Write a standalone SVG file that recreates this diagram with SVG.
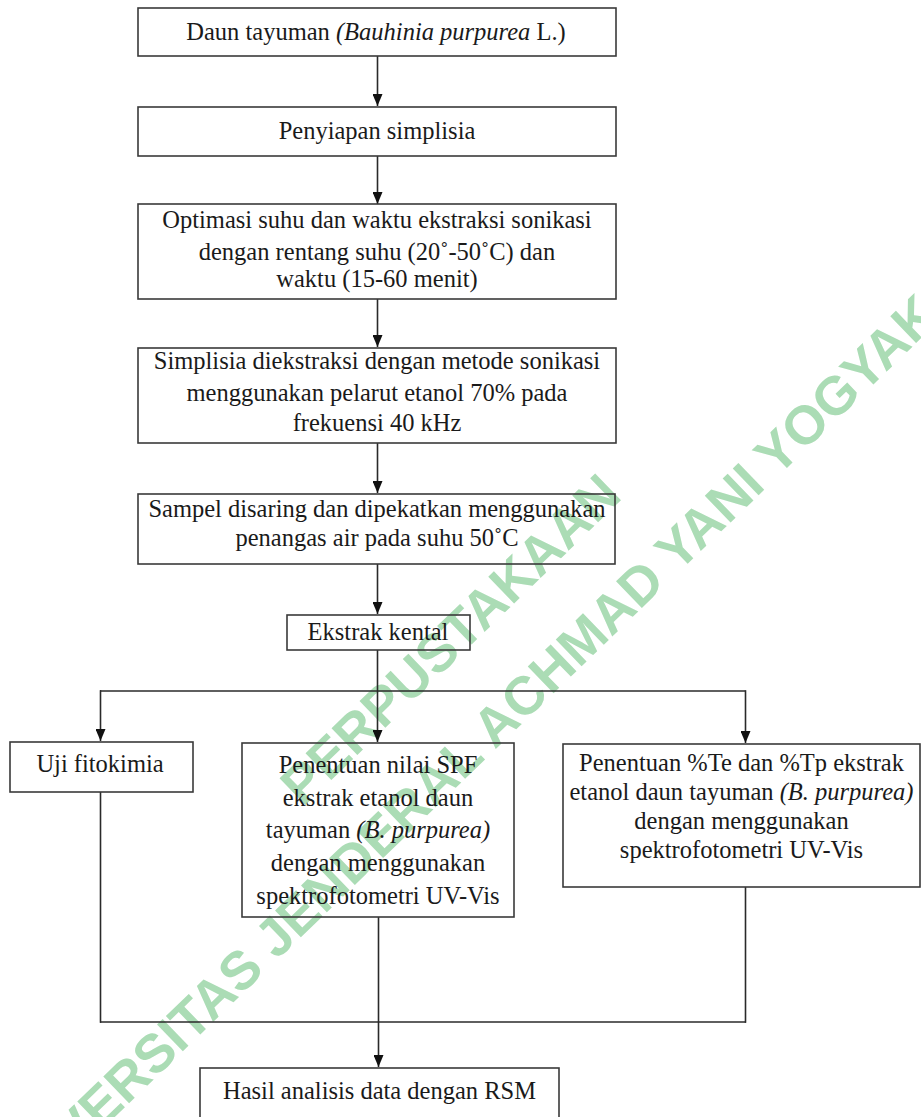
<svg xmlns="http://www.w3.org/2000/svg" width="921" height="1117" viewBox="0 0 921 1117">
<defs>
<style>
.box{fill:none;stroke:#3a3a3a;stroke-width:1.6}
.t{font-family:"Liberation Serif","Times New Roman",serif;font-size:24.5px;fill:#1a1a1a;text-anchor:middle}
.i{font-style:italic}
.ln{fill:none;stroke:#2a2a2a;stroke-width:1.6}
.wm{font-family:"Liberation Sans",Arial,sans-serif;font-weight:bold;font-size:54px;fill:#abdcb5;text-anchor:middle}
</style>
<marker id="ah" viewBox="0 0 12 10" refX="12" refY="5" markerWidth="12" markerHeight="10" markerUnits="userSpaceOnUse" orient="auto">
<path d="M0,0 L12,5 L0,10 z" fill="#111"/>
</marker>
</defs>
<rect width="921" height="1117" fill="#fff"/>
<g id="watermark" transform="translate(482,672) rotate(-44)">
<text class="wm" x="0" y="-27">PERPUSTAKAAN</text>
<text class="wm" x="0" y="65">UNIVERSITAS JENDERAL ACHMAD YANI YOGYAKARTA</text>
</g>
<g id="connectors">
<line class="ln" x1="377.5" y1="56" x2="377.5" y2="106" marker-end="url(#ah)"/>
<line class="ln" x1="377.5" y1="156" x2="377.5" y2="204" marker-end="url(#ah)"/>
<line class="ln" x1="377.5" y1="299" x2="377.5" y2="347" marker-end="url(#ah)"/>
<line class="ln" x1="377.5" y1="443" x2="377.5" y2="493" marker-end="url(#ah)"/>
<line class="ln" x1="377.5" y1="564" x2="377.5" y2="614" marker-end="url(#ah)"/>
<line class="ln" x1="377.5" y1="650" x2="377.5" y2="742" marker-end="url(#ah)"/>
<line class="ln" x1="100" y1="691" x2="745.5" y2="691"/>
<line class="ln" x1="100.5" y1="690.2" x2="100.5" y2="741" marker-end="url(#ah)"/>
<line class="ln" x1="745.5" y1="690.2" x2="745.5" y2="743" marker-end="url(#ah)"/>
<line class="ln" x1="100.5" y1="792" x2="100.5" y2="1022.8"/>
<line class="ln" x1="745.5" y1="887" x2="745.5" y2="1022.8"/>
<line class="ln" x1="100" y1="1022" x2="746" y2="1022"/>
<line class="ln" x1="378.5" y1="917" x2="378.5" y2="1067" marker-end="url(#ah)"/>
</g>
<g id="n1">
<rect class="box" x="138" y="8" width="478" height="48"/>
<text class="t" x="376" y="40">Daun tayuman <tspan class="i">(Bauhinia purpurea</tspan> L.)</text>
</g>
<g id="n2">
<rect class="box" x="138" y="107" width="478" height="49"/>
<text class="t" x="377" y="139">Penyiapan simplisia</text>
</g>
<g id="n3">
<rect class="box" x="138" y="204" width="478" height="95"/>
<text class="t" x="377" y="228">Optimasi suhu dan waktu ekstraksi sonikasi</text>
<text class="t" x="377" y="260">dengan rentang suhu (20˚-50˚C) dan</text>
<text class="t" x="377" y="287">waktu (15-60 menit)</text>
</g>
<g id="n4">
<rect class="box" x="138" y="348" width="478" height="95"/>
<text class="t" x="377" y="369">Simplisia diekstraksi dengan metode sonikasi</text>
<text class="t" x="377" y="401">menggunakan pelarut etanol 70% pada</text>
<text class="t" x="377" y="431">frekuensi 40 kHz</text>
</g>
<g id="n5">
<rect class="box" x="138" y="494" width="477" height="70"/>
<text class="t" x="377" y="517">Sampel disaring dan dipekatkan menggunakan</text>
<text class="t" x="377" y="546">penangas air pada suhu 50˚C</text>
</g>
<g id="n6">
<rect class="box" x="287" y="615" width="183" height="35"/>
<text class="t" x="378" y="640">Ekstrak kental</text>
</g>
<g id="n7">
<rect class="box" x="10" y="742" width="183" height="50"/>
<text class="t" x="100" y="772">Uji fitokimia</text>
</g>
<g id="n8">
<rect class="box" x="242" y="743" width="272" height="174"/>
<text class="t" x="378" y="773">Penentuan nilai SPF</text>
<text class="t" x="378" y="806">ekstrak etanol daun</text>
<text class="t" x="378" y="838">tayuman <tspan class="i">(B. purpurea)</tspan></text>
<text class="t" x="378" y="871">dengan menggunakan</text>
<text class="t" x="378" y="904">spektrofotometri UV-Vis</text>
</g>
<g id="n9">
<rect class="box" x="563" y="744" width="357" height="143"/>
<text class="t" x="741.5" y="771">Penentuan %Te dan %Tp ekstrak</text>
<text class="t" x="741.5" y="800">etanol daun tayuman <tspan class="i">(B. purpurea)</tspan></text>
<text class="t" x="741.5" y="829">dengan menggunakan</text>
<text class="t" x="741.5" y="858">spektrofotometri UV-Vis</text>
</g>
<g id="n10">
<rect class="box" x="200" y="1068" width="359" height="70"/>
<text class="t" x="379.5" y="1099">Hasil analisis data dengan RSM</text>
</g>
</svg>
